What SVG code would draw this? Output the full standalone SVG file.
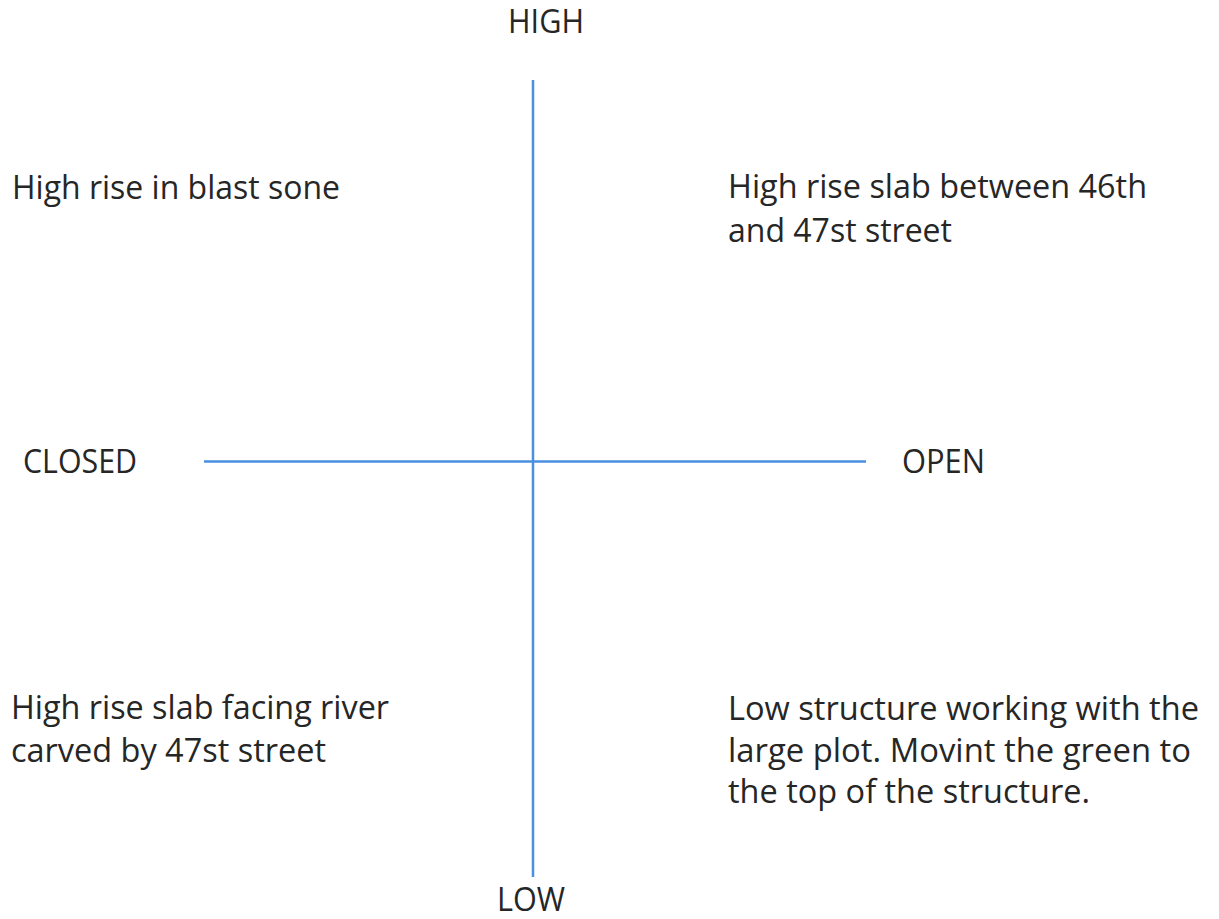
<svg xmlns="http://www.w3.org/2000/svg" width="1219" height="919" viewBox="0 0 1219 919">
<style>
.t{font-family:"Open Sans","Liberation Sans",sans-serif;font-size:32px;fill:#262626}
.ax{stroke:#4A8FE0;stroke-width:2.5;fill:none}
</style>
<rect width="1219" height="919" fill="#ffffff"/>
<g id="connectors">
<line class="ax" x1="533" y1="80" x2="533" y2="877"/>
<line class="ax" x1="204" y1="461.5" x2="866" y2="461.5"/>
</g>
<g id="label-high"><text class="t" x="508" y="33" textLength="76" lengthAdjust="spacingAndGlyphs">HIGH</text></g>
<g id="label-low"><text class="t" x="497" y="911" textLength="68" lengthAdjust="spacingAndGlyphs">LOW</text></g>
<g id="label-closed"><text class="t" x="23" y="473" textLength="114" lengthAdjust="spacingAndGlyphs">CLOSED</text></g>
<g id="label-open"><text class="t" x="902" y="473" textLength="83" lengthAdjust="spacingAndGlyphs">OPEN</text></g>
<g id="q-top-left"><text class="t" x="12" y="199" textLength="328" lengthAdjust="spacingAndGlyphs">High rise in blast sone</text></g>
<g id="q-top-right">
<text class="t" x="728" y="198" textLength="419" lengthAdjust="spacingAndGlyphs">High rise slab between 46th</text>
<text class="t" x="728" y="242" textLength="224" lengthAdjust="spacingAndGlyphs">and 47st street</text>
</g>
<g id="q-bottom-left">
<text class="t" x="11" y="719" textLength="378" lengthAdjust="spacingAndGlyphs">High rise slab facing river</text>
<text class="t" x="11" y="762" textLength="315" lengthAdjust="spacingAndGlyphs">carved by 47st street</text>
</g>
<g id="q-bottom-right">
<text class="t" x="728" y="720" textLength="471" lengthAdjust="spacingAndGlyphs">Low structure working with the</text>
<text class="t" x="728" y="762" textLength="463" lengthAdjust="spacingAndGlyphs">large plot. Movint the green to</text>
<text class="t" x="728" y="803" textLength="362" lengthAdjust="spacingAndGlyphs">the top of the structure.</text>
</g>
</svg>
